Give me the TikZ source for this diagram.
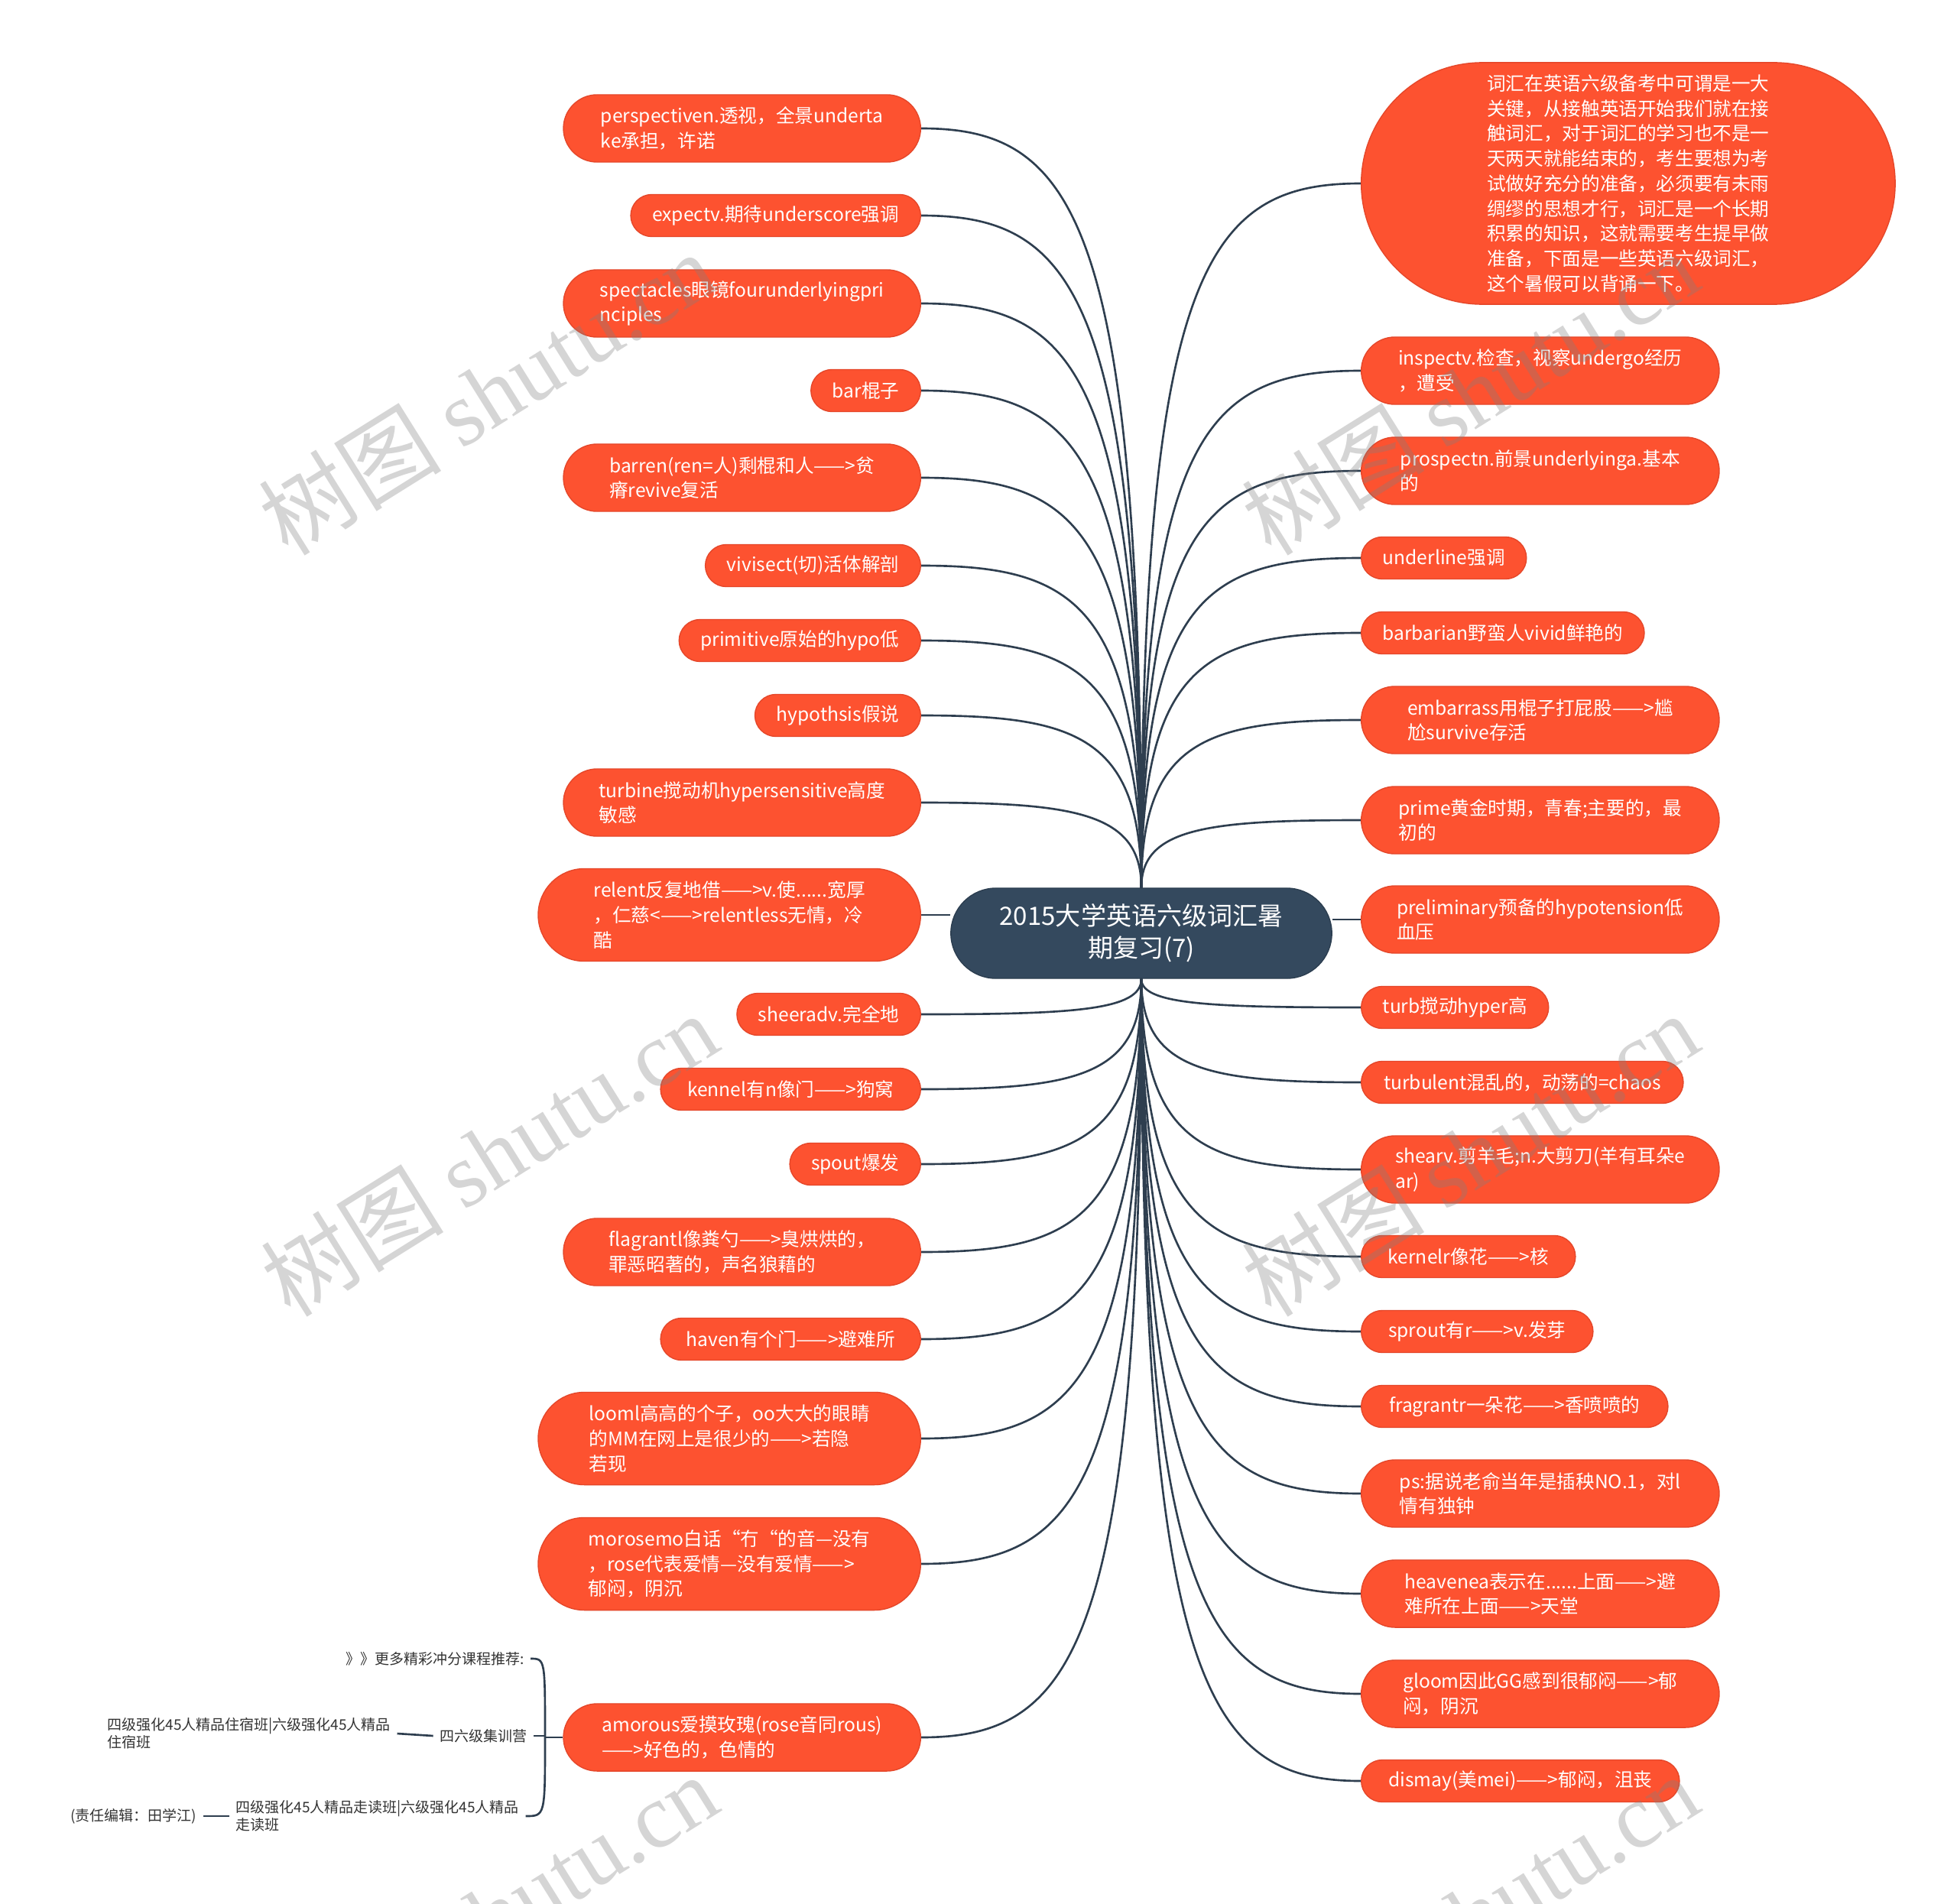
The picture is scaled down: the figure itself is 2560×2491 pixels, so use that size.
\documentclass[tikz,border=0pt]{standalone}
\usepackage{fontspec}
\setmainfont{Noto Sans CJK SC}
\newfontfamily\wmserif{Liberation Serif}
\usetikzlibrary{calc}
\definecolor{leaforange}{HTML}{FD5230}
\definecolor{leafedge}{HTML}{E5472A}
\definecolor{hubfill}{HTML}{34495E}
\definecolor{linkcol}{HTML}{2E3E4F}
\definecolor{smalltext}{HTML}{333333}
\pgfdeclarelayer{background}
\pgfdeclarelayer{foreground}
\pgfsetlayers{background,main,foreground}
\newcommand\leaffont{\fontsize{7pt}{9.3pt}\selectfont}
\newcommand\hubfont{\fontsize{9.4pt}{11.9pt}\selectfont}
\newcommand\smallfont{\fontsize{5.4pt}{6.5pt}\selectfont}
\newcommand\wmfont{\fontsize{34pt}{36pt}\selectfont}
\begin{document}
\begin{tikzpicture}[x=0.01cm,y=-0.01cm,
  link/.style={draw=linkcol, line width=0.75pt},
  leafbase/.style={rectangle, fill=leaforange, draw=leafedge, line width=0.4pt, text=white, font=\leaffont, align=left, inner xsep=0.28cm, inner ysep=0pt},
  leafa/.style={leafbase, minimum height=0.55cm, rounded corners=0.275cm},
  leafb/.style={leafbase, minimum height=0.88cm, rounded corners=0.44cm},
  leafc/.style={leafbase, minimum height=1.21cm, rounded corners=0.605cm},
  hubnode/.style={rectangle, fill=hubfill, draw=hubfill!85!black, line width=0.4pt, text=white, font=\hubfont, align=center, minimum width=4.98cm, minimum height=1.18cm, rounded corners=0.59cm},
  smalltxt/.style={text=smalltext, font=\smallfont, inner xsep=0.08cm, inner ysep=0pt, align=left},
  wm/.style={text=black!50, opacity=0.33, font=\wmfont, rotate=32, inner sep=0pt},
]
\useasboundingbox (0,0) rectangle (2560,2491);

% central topic
\node[hubnode] (hub) at (1493,1221) {2015大学英语六级词汇暑\\期复习(7)};

% left branches
\node[leafb, anchor=east, minimum width=4.67cm] (l1) at (1205,168) {perspectiven.透视，全景underta\\ke承担，许诺};
\node[leafa, anchor=east, minimum width=3.79cm] (l2) at (1205,282) {expectv.期待underscore强调};
\node[leafb, anchor=east, minimum width=4.67cm] (l3) at (1205,397) {spectacles眼镜fourunderlyingpri\\nciples};
\node[leafa, anchor=east, minimum width=1.39cm] (l4) at (1205,511) {bar棍子};
\node[leafb, anchor=east, minimum width=4.67cm] (l5) at (1205,625) {barren(ren=人)剩棍和人——>贫\\瘠revive复活};
\node[leafa, anchor=east, minimum width=2.78cm] (l6) at (1205,740) {vivisect(切)活体解剖};
\node[leafa, anchor=east, minimum width=3.15cm] (l7) at (1205,838) {primitive原始的hypo低};
\node[leafa, anchor=east, minimum width=2.14cm] (l8) at (1205,936) {hypothsis假说};
\node[leafb, anchor=east, minimum width=4.67cm] (l9) at (1205,1050) {turbine搅动机hypersensitive高度\\敏感};
\node[leafc, anchor=east, minimum width=5.00cm] (l10) at (1205,1197) {relent反复地借——>v.使......宽厚\\，仁慈<——>relentless无情，冷\\酷};
\node[leafa, anchor=east, minimum width=2.38cm] (l11) at (1205,1327) {sheeradv.完全地};
\node[leafa, anchor=east, minimum width=3.40cm] (l12) at (1205,1425) {kennel有n像门——>狗窝};
\node[leafa, anchor=east, minimum width=1.68cm] (l13) at (1205,1523) {spout爆发};
\node[leafb, anchor=east, minimum width=4.67cm] (l14) at (1205,1638) {flagrantl像粪勺——>臭烘烘的，\\罪恶昭著的，声名狼藉的};
\node[leafa, anchor=east, minimum width=3.40cm] (l15) at (1205,1752) {haven有个门——>避难所};
\node[leafc, anchor=east, minimum width=5.00cm] (l16) at (1205,1882) {looml高高的个子，oo大大的眼睛\\的MM在网上是很少的——>若隐\\若现};
\node[leafc, anchor=east, minimum width=5.00cm] (l17) at (1205,2046) {morosemo白话“冇“的音—没有\\，rose代表爱情—没有爱情——>\\郁闷，阴沉};
\node[leafb, anchor=east, minimum width=4.67cm] (l18) at (1205,2273) {amorous爱摸玫瑰(rose音同rous)\\——>好色的，色情的};

% right branches
\node[leafbase, anchor=west, minimum width=6.98cm, minimum height=3.16cm, rounded corners=1.58cm] (r1) at (1780,240) {词汇在英语六级备考中可谓是一大\\关键，从接触英语开始我们就在接\\触词汇，对于词汇的学习也不是一\\天两天就能结束的，考生要想为考\\试做好充分的准备，必须要有未雨\\绸缪的思想才行，词汇是一个长期\\积累的知识，这就需要考生提早做\\准备，下面是一些英语六级词汇，\\这个暑假可以背诵一下。};
\node[leafb, anchor=west, minimum width=4.68cm] (r2) at (1780,485) {inspectv.检查，视察undergo经历\\，遭受};
\node[leafb, anchor=west, minimum width=4.68cm] (r3) at (1780,616) {prospectn.前景underlyinga.基本\\的};
\node[leafa, anchor=west, minimum width=2.15cm] (r4) at (1780,730) {underline强调};
\node[leafa, anchor=west, minimum width=3.69cm] (r5) at (1780,828) {barbarian野蛮人vivid鲜艳的};
\node[leafb, anchor=west, minimum width=4.68cm] (r6) at (1780,942) {embarrass用棍子打屁股——>尴\\尬survive存活};
\node[leafb, anchor=west, minimum width=4.68cm] (r7) at (1780,1073) {prime黄金时期，青春;主要的，最\\初的};
\node[leafb, anchor=west, minimum width=4.68cm] (r8) at (1780,1203) {preliminary预备的hypotension低\\血压};
\node[leafa, anchor=west, minimum width=2.44cm] (r9) at (1780,1318) {turb搅动hyper高};
\node[leafa, anchor=west, minimum width=4.21cm] (r10) at (1780,1416) {turbulent混乱的，动荡的=chaos};
\node[leafb, anchor=west, minimum width=4.68cm] (r11) at (1780,1530) {shearv.剪羊毛;n.大剪刀(羊有耳朵e\\ar)};
\node[leafa, anchor=west, minimum width=2.80cm] (r12) at (1780,1644) {kernelr像花——>核};
\node[leafa, anchor=west, minimum width=3.03cm] (r13) at (1780,1742) {sprout有r——>v.发芽};
\node[leafa, anchor=west, minimum width=4.01cm] (r14) at (1780,1840) {fragrantr一朵花——>香喷喷的};
\node[leafb, anchor=west, minimum width=4.68cm] (r15) at (1780,1954) {ps:据说老俞当年是插秧NO.1，对l\\情有独钟};
\node[leafb, anchor=west, minimum width=4.68cm] (r16) at (1780,2085) {heavenea表示在......上面——>避\\难所在上面——>天堂};
\node[leafb, anchor=west, minimum width=4.68cm] (r17) at (1780,2216) {gloom因此GG感到很郁闷——>郁\\闷，阴沉};
\node[leafa, anchor=west, minimum width=4.16cm] (r18) at (1780,2330) {dismay(美mei)——>郁闷，沮丧};

% sub-branch of amorous
\coordinate (bk) at (713,2273);
\node[smalltxt, anchor=east] (s1) at (694,2170) {》》更多精彩冲分课程推荐:};
\node[smalltxt, anchor=east] (s2) at (698,2271) {四六级集训营};
\node[smalltxt, anchor=west] (s3) at (132,2268) {四级强化45人精品住宿班|六级强化45人精品\\住宿班};
\node[smalltxt, anchor=west] (s4) at (300,2376) {四级强化45人精品走读班|六级强化45人精品\\走读班};
\node[smalltxt, anchor=east] (s5) at (266,2376) {(责任编辑：田学江)};

% background and connectors
\begin{pgfonlayer}{background}
\fill[white] (0,0) rectangle (2560,2491);
\foreach \i in {1,...,9} \draw[link] (hub.north) .. controls ($(hub.north |- l\i.east)!0.12!(hub.north)$) and ($(hub.north |- l\i.east)!0.3!(l\i.east)$) .. (l\i.east);
\draw[link] (l10.east) -- (l10.east -| hub.west);
\foreach \i in {11,...,18} \draw[link] (hub.south) .. controls ($(hub.south |- l\i.east)!0.12!(hub.south)$) and ($(hub.south |- l\i.east)!0.3!(l\i.east)$) .. (l\i.east);
\foreach \i in {1,...,7} \draw[link] (hub.north) .. controls ($(hub.north |- r\i.west)!0.12!(hub.north)$) and ($(hub.north |- r\i.west)!0.3!(r\i.west)$) .. (r\i.west);
\draw[link] (r8.west) -- (r8.west -| hub.east);
\foreach \i in {9,...,18} \draw[link] (hub.south) .. controls ($(hub.south |- r\i.west)!0.12!(hub.south)$) and ($(hub.south |- r\i.west)!0.3!(r\i.west)$) .. (r\i.west);
\draw[link] (l18.west) -- (bk);
\draw[link] (bk) .. controls (bk |- s1.east) .. (s1.east);
\draw[link] (s2.east) -- (s2.east -| bk);
\draw[link] (bk) .. controls (bk |- s4.east) .. (s4.east);
\draw[link] (s2.west) -- (s3.east);
\draw[link] (s4.west) -- (s5.east);
\end{pgfonlayer}

% watermarks
\begin{pgfonlayer}{foreground}
\begin{scope}
\clip (0,0) rectangle (2560,2491);
\node[wm] (w1) at (637,514) {树图 {\wmserif shutu.cn}};
\node[wm] (w2) at (1923,514) {树图 {\wmserif shutu.cn}};
\node[wm] (w3) at (640,1510) {树图 {\wmserif shutu.cn}};
\node[wm] (w4) at (1923,1510) {树图 {\wmserif shutu.cn}};
\node[wm] (w5) at (640,2506) {树图 {\wmserif shutu.cn}};
\node[wm] (w6) at (1923,2506) {树图 {\wmserif shutu.cn}};
\end{scope}
\end{pgfonlayer}
\end{tikzpicture}
\end{document}
